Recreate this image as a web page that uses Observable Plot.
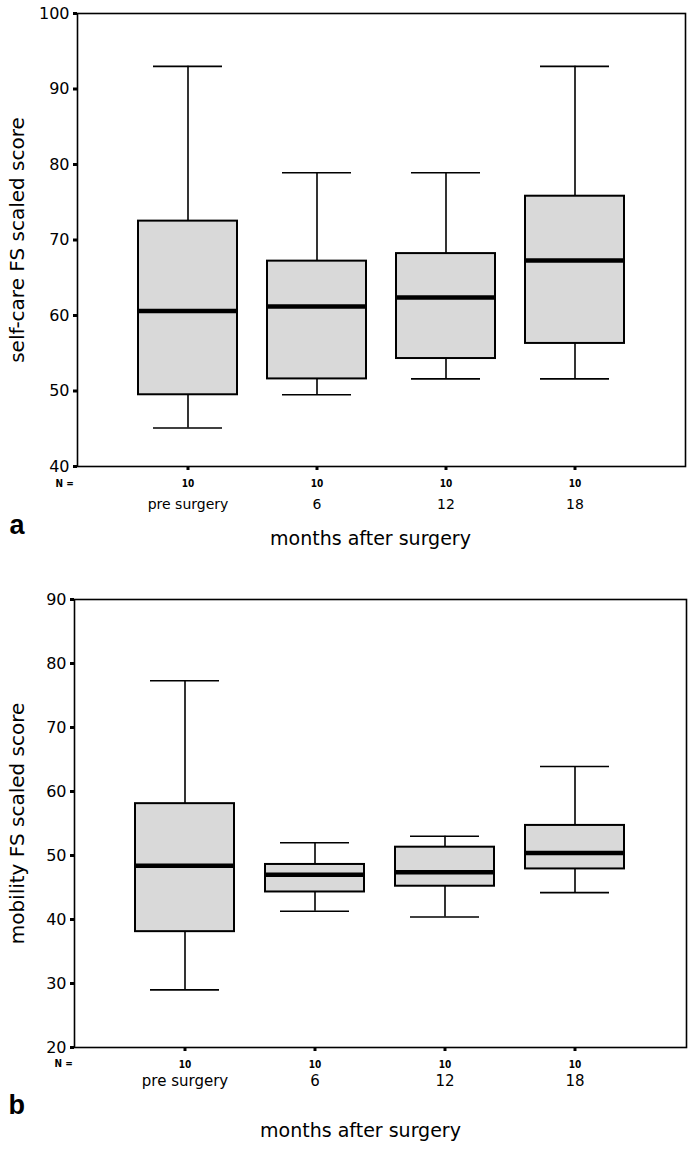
<!DOCTYPE html>
<html>
<head>
<meta charset="utf-8">
<script src="https://cdn.jsdelivr.net/npm/d3@7"></script>
<script src="https://cdn.jsdelivr.net/npm/@observablehq/plot@0.6"></script>
<style>
  body { margin: 0; background: #fff; }
  svg { display: block; }
</style>
</head>
<body>
<div id="chart"></div>
<script>
// ---- Data ----
const categories = ["pre surgery", "6", "12", "18"];
const nCounts = [10, 10, 10, 10];

// Panel a: self-care FS scaled score
const selfMin = [45.1, 49.5, 51.6, 51.6];
const selfQ1  = [49.5, 51.6, 54.3, 56.3];
const selfMed = [60.6, 61.2, 62.4, 67.3];
const selfQ3  = [72.5, 67.2, 68.2, 75.8];
const selfMax = [93.0, 78.9, 78.9, 93.0];
const selfTicks = [40, 50, 60, 70, 80, 90, 100];

// Panel b: mobility FS scaled score
const mobMin = [29.0, 41.3, 40.4, 44.2];
const mobQ1  = [38.1, 44.3, 45.2, 47.9];
const mobMed = [48.4, 47.0, 47.4, 50.4];
const mobQ3  = [58.1, 48.6, 51.3, 54.7];
const mobMax = [77.3, 52.0, 53.0, 63.9];
const mobTicks = [20, 30, 40, 50, 60, 70, 80, 90];

const xLabel = "months after surgery";

const FONT = "'DejaVu Sans', 'Liberation Sans', Arial, sans-serif";
const NARROW = "'Liberation Sans Narrow', 'DejaVu Sans Condensed', sans-serif";

function buildRows(mins, q1s, meds, q3s, maxs) {
  return categories.map((c, i) => ({
    cat: c, n: nCounts[i], min: mins[i], q1: q1s[i], med: meds[i], q3: q3s[i], max: maxs[i]
  }));
}

function panel(cfg) {
  const rows = buildRows(...cfg.series);
  const nMap = new Map(rows.map(d => [d.cat, d.n]));
  return Plot.plot({
    width: 693,
    height: cfg.height,
    marginTop: cfg.mt,
    marginBottom: cfg.mb,
    marginLeft: cfg.ml,
    marginRight: cfg.mr,
    style: {fontFamily: FONT, background: "#fff", color: "#000"},
    x: {type: "band", domain: categories, paddingInner: 0.235, paddingOuter: 0.47},
    y: {domain: cfg.domain},
    marks: [
      // whiskers
      Plot.ruleX(rows, {x: "cat", y1: "min", y2: "q1", stroke: "#000", strokeWidth: 1.6}),
      Plot.ruleX(rows, {x: "cat", y1: "q3", y2: "max", stroke: "#000", strokeWidth: 1.6}),
      Plot.tickY(rows, {x: "cat", y: "min", stroke: "#000", strokeWidth: 1.6, insetLeft: 15, insetRight: 15}),
      Plot.tickY(rows, {x: "cat", y: "max", stroke: "#000", strokeWidth: 1.6, insetLeft: 15, insetRight: 15}),
      // boxes
      Plot.barY(rows, {x: "cat", y1: "q1", y2: "q3", fill: "#d9d9d9", stroke: "#000", strokeWidth: 2}),
      // medians
      Plot.tickY(rows, {x: "cat", y: "med", stroke: "#000", strokeWidth: 4.5}),
      Plot.frame({stroke: "#000", strokeWidth: 1.6}),
      // y axis ticks
      Plot.axisY({ticks: cfg.ticks, tickSize: 4, strokeWidth: 3, tickPadding: 4,
        fontSize: cfg.tickFont, label: null}),
      // y axis title
      Plot.axisY({ticks: cfg.ticks, tickSize: 0, tickFormat: () => "", fontSize: 20,
        label: cfg.yLabel, labelAnchor: "center", labelArrow: false, labelOffset: cfg.ylOff}),
      // x axis: N counts
      Plot.axisX({tickSize: 4, strokeWidth: 3, tickPadding: cfg.nPad, fontSize: 10, fontWeight: "bold",
        fontFamily: NARROW, tickFormat: d => String(nMap.get(d)), label: null}),
      // x axis: category names
      Plot.axisX({tickSize: 0, tickPadding: cfg.catPad, fontSize: cfg.catFont, label: null}),
      // N = label
      Plot.text(["N ="], {frameAnchor: "bottom-left", dx: cfg.nDx, dy: cfg.nDy, fontSize: 10, fontWeight: "bold",
        fontFamily: NARROW, textAnchor: "start"}),
      // x title
      Plot.text([xLabel], {frameAnchor: "bottom", dx: cfg.xtDx, dy: cfg.xtDy, fontSize: 19}),
      // panel letter
      Plot.text([cfg.letter], {frameAnchor: "bottom-left", dx: cfg.letDx, dy: cfg.letDy, fontSize: 27,
        fontWeight: "bold", fontFamily: "'Liberation Sans', Arial, sans-serif", textAnchor: "start"})
    ]
  });
}

const root = document.getElementById("chart");
root.appendChild(panel({
  series: [selfMin, selfQ1, selfMed, selfQ3, selfMax],
  domain: [40, 100], ticks: selfTicks,
  height: 576, mt: 13, mb: 110, ml: 77, mr: 8,
  tickFont: 16, catFont: 14, catPad: 33, nPad: 9,
  nDx: -22, nDy: 20,
  xtDx: -11, xtDy: 78,
  ylOff: 68,
  letDx: -68, letDy: 67,
  yLabel: "self-care FS scaled score", letter: "a"
}));
root.appendChild(panel({
  series: [mobMin, mobQ1, mobMed, mobQ3, mobMax],
  domain: [20, 90], ticks: mobTicks,
  height: 576, mt: 23, mb: 105, ml: 74, mr: 7,
  tickFont: 16, catFont: 15, catPad: 28, nPad: 9,
  nDx: -20, nDy: 19,
  xtDx: -20, xtDy: 89,
  ylOff: 65,
  letDx: -66, letDy: 66,
  yLabel: "mobility FS scaled score", letter: "b"
}));
</script>
</body>
</html>
